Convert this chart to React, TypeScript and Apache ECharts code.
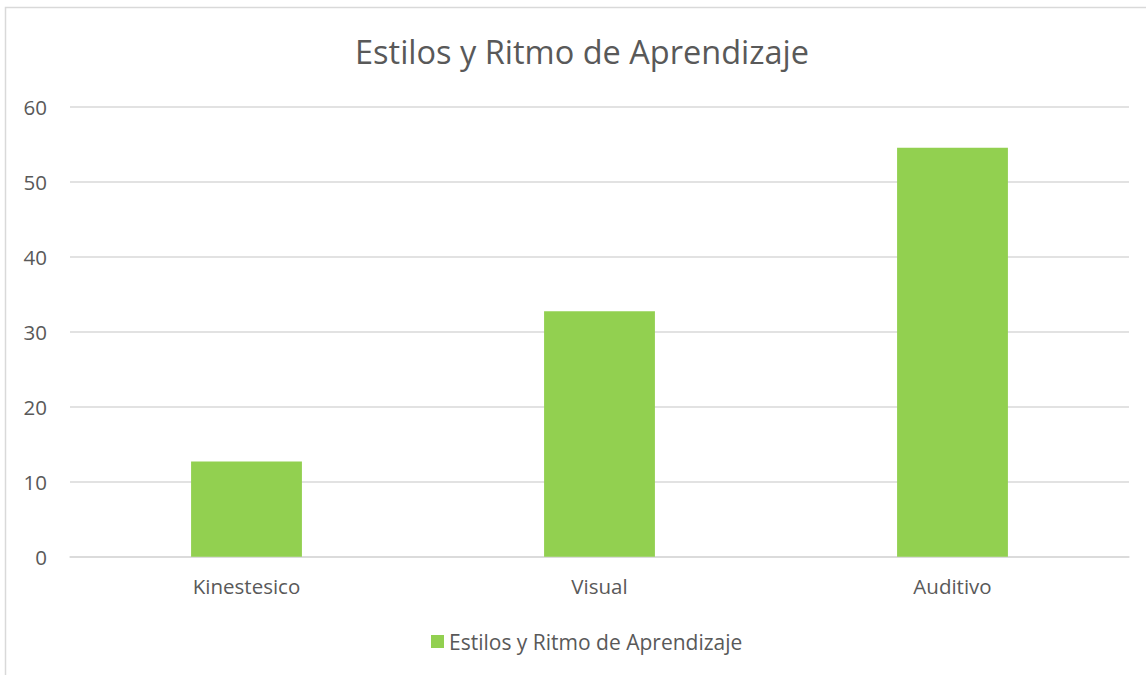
import React, { useEffect, useRef } from "react";
import * as echarts from "echarts";

const categories = ["Kinestesico", "Visual", "Auditivo"];
const seriesName = "Estilos y Ritmo de Aprendizaje";
const values = [12.7, 32.7, 54.5];
const titleText = "Estilos y Ritmo de Aprendizaje";

export default function App() {
  const ref = useRef<HTMLDivElement>(null);
  useEffect(() => {
    document.body.style.margin = "0";
    const chart = echarts.init(ref.current!, null, { renderer: "svg" });
    const font = "'Open Sans', 'Noto Sans', sans-serif";
    chart.setOption({
      animation: false,
      backgroundColor: "#ffffff",
      title: {
        text: titleText,
        left: 350,
        top: 30,
        textStyle: { fontFamily: font, fontSize: 32.5, fontWeight: "normal", color: "#595959" },
      },
      graphic: [
        {
          type: "rect",
          shape: { x: 5.5, y: 7.5, width: 1200, height: 800 },
          style: { fill: "none", stroke: "#d9d9d9", lineWidth: 1.5 },
          silent: true,
          z: -10,
        },
      ],
      legend: {
        data: [seriesName],
        top: 626,
        left: 426,
        icon: "rect",
        itemWidth: 13,
        itemHeight: 13,
        itemGap: 6,
        textStyle: { fontFamily: font, fontSize: 21, color: "#595959" },
      },
      grid: { left: 70, right: 17, top: 106.5, bottom: 118.3, containLabel: false },
      xAxis: {
        type: "category",
        data: categories,
        axisLine: { lineStyle: { color: "#d9d9d9", width: 1.5 } },
        axisTick: { show: false },
        axisLabel: { fontFamily: font, fontSize: 20.5, color: "#595959", margin: 19 },
      },
      yAxis: {
        type: "value",
        min: 0,
        max: 60,
        interval: 10,
        axisLine: { show: false },
        axisTick: { show: false },
        splitLine: { lineStyle: { color: "#d9d9d9", width: 1.5 } },
        axisLabel: { fontFamily: font, fontSize: 20.5, color: "#595959", margin: 23 },
      },
      series: [
        {
          name: seriesName,
          type: "bar",
          data: values,
          barWidth: "31.4%",
          itemStyle: { color: "#92d050" },
        },
      ],
    });
    return () => chart.dispose();
  }, []);
  return <div ref={ref} style={{ width: 1146, height: 675 }} />;
}
